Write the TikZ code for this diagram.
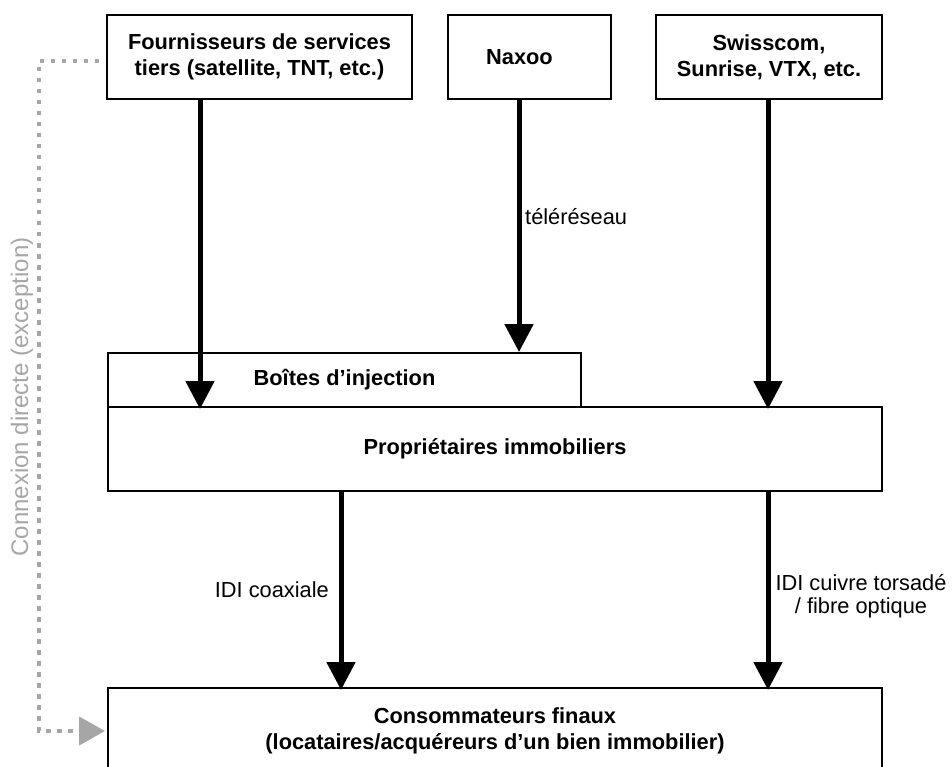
\documentclass[tikz,border=0pt]{standalone}
\usepackage{fontspec}
\setmainfont{Liberation Sans}
\usetikzlibrary{arrows.meta,calc}
\definecolor{dotgray}{HTML}{A6A6A6}
\tikzset{
  box/.style={draw=black, line width=2.5pt, inner sep=0pt, outer sep=0pt, align=center,
    font=\bfseries\fontsize{21.8}{26}\selectfont},
  thinbox/.style={box, line width=2pt},
  arr/.style={line width=5pt, -{Triangle[length=28pt,width=28pt]}},
  lbl/.style={inner sep=0pt, align=center, font=\fontsize{21.8}{23.5}\selectfont},
  dotarr/.style={draw=dotgray, line width=4.5pt, dash pattern=on 4.5pt off 6.5pt,
    -{Triangle[length=26pt,width=28pt,fill=dotgray]}},
}
\begin{document}
\begin{tikzpicture}[x=1pt,y=-1pt]
\useasboundingbox (0,0) rectangle (952,767);
\clip (0,0) rectangle (952,767);
% top boxes
\node[box, minimum width=305pt, minimum height=84pt] (fourn) at (259.5,57)
  {Fournisseurs de services\\tiers (satellite, TNT, etc.)};
\node[box, minimum width=163pt, minimum height=84pt] (naxoo) at (529.5,57) {};
\node[inner sep=0pt, font=\bfseries\fontsize{21.8}{26}\selectfont] (naxootext) at (519.5,57) {Naxoo};
\node[box, minimum width=226pt, minimum height=84pt] (swiss) at (769,57)
  {Swisscom,\\Sunrise, VTX, etc.};
% middle
\node[thinbox, minimum width=774pt, minimum height=84pt] (prop) at (495,449)
  {Propriétaires immobiliers};
\node[thinbox, minimum width=473pt, minimum height=54pt] (boites) at (344.5,380)
  {Boîtes d’injection};
% bottom
\node[box, minimum width=774pt, minimum height=86pt] (conso) at (495,731)
  {Consommateurs finaux\\(locataires/acquéreurs d’un bien immobilier)};
% x positions
\coordinate (xf) at (200,0);
\coordinate (xn) at (519,0);
\coordinate (xs) at (768,0);
\coordinate (xc) at (341,0);
\coordinate (xl) at (39,0);
% arrows
\draw[arr] (fourn.south -| xf) -- ([yshift=-2pt]boites.south -| xf);
\draw[arr] (naxoo.south -| xn) -- ([yshift=1pt]boites.north -| xn);
\draw[arr] (swiss.south -| xs) -- ([yshift=-2pt]prop.north -| xs);
\draw[arr] (prop.south -| xc) -- ([yshift=-2pt]conso.north -| xc);
\draw[arr] (prop.south -| xs) -- ([yshift=-2pt]conso.north -| xs);
% labels
\node[lbl, anchor=west] (tele) at (525,217) {téléréseau};
\node[lbl, anchor=east] (coax) at (329,590) {IDI coaxiale};
\node[lbl] (cuivre) at (861,596) {IDI cuivre torsadé\\/ fibre optique};
% dotted connection
\draw[dotarr] ([xshift=-8pt]fourn.west |- 0,61) -| (xl |- conso.west) -- ([xshift=-3pt]conso.west);
\node[inner sep=0pt, rotate=90, text=dotgray, font=\fontsize{24}{26}\selectfont] (conn) at (22,397)
  {Connexion directe (exception)};
\end{tikzpicture}
\end{document}
